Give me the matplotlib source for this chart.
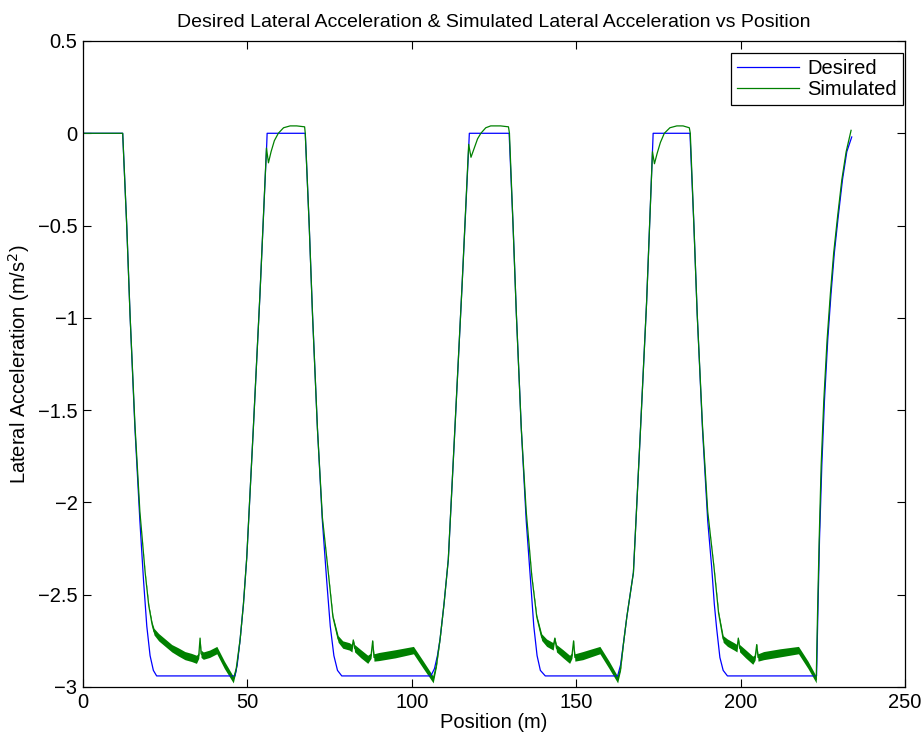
import matplotlib
matplotlib.use('Agg')
import matplotlib.pyplot as plt
from matplotlib.ticker import FuncFormatter

plt.rcParams['font.family'] = ['Liberation Sans', 'DejaVu Sans']

# desired lateral acceleration (m/s^2) vs position (m)
desired_x = [0, 12.07, 13.3, 14.3, 15.8, 17.3, 18.4, 19.4, 20.4, 21.4, 22.4,
             46.2, 46.9, 47.8, 48.8, 49.8, 51.8, 53.8, 55.9, 56.0,
             67.6, 68.8, 69.8, 71.3, 72.8, 74.1, 75.2, 76.3, 77.4, 78.7,
             105.8, 106.9, 107.8, 108.6, 109.8, 111.1, 113.2, 115.3, 117.4, 117.5,
             129.6, 130.8, 131.8, 133.3, 134.8, 136.1, 137.1, 138.1, 139.1, 140.6,
             162.6, 163.5, 164.4, 165.4, 167.4, 169.4, 171.4, 173.3, 173.4,
             184.6, 185.8, 186.8, 188.4, 190.0, 191.2, 192.0, 192.7, 193.7, 194.7, 196.0,
             223.1, 223.5, 224.0, 224.7, 225.5, 226.5, 227.5, 228.5, 229.7, 231.0, 232.3, 233.8]
desired_y = [0, 0, -0.5, -0.98, -1.6, -2.1, -2.42, -2.67, -2.83, -2.91, -2.94,
             -2.94, -2.88, -2.74, -2.55, -2.30, -1.60, -0.88, -0.05, 0,
             0, -0.5, -0.98, -1.6, -2.1, -2.42, -2.67, -2.83, -2.91, -2.94,
             -2.94, -2.90, -2.83, -2.74, -2.55, -2.31, -1.57, -0.82, -0.04, 0,
             0, -0.5, -0.98, -1.6, -2.1, -2.42, -2.67, -2.83, -2.91, -2.94,
             -2.94, -2.88, -2.76, -2.62, -2.38, -1.66, -0.92, -0.05, 0,
             0, -0.5, -0.98, -1.6, -2.1, -2.35, -2.55, -2.68, -2.84, -2.91, -2.94,
             -2.94, -2.6, -2.2, -1.8, -1.45, -1.12, -0.87, -0.65, -0.45, -0.25, -0.10, -0.02]

# simulated lateral acceleration: mean trace and half-width of the fast oscillation
sim_x = [0, 12.07, 13.3, 14.3, 15.8, 17.3, 18.9, 20.0, 21.0, 21.6,
         23.0, 25.0, 27.0, 29.0, 31.0, 33.0, 34.5, 35.2, 35.6, 35.9, 36.6, 38.5, 40.7, 43.0, 45.7, 46.6,
         47.8, 48.8, 49.8, 51.8, 53.8, 55.8, 56.4, 57.2, 58.2, 59.4, 61.0, 63.0, 65.0, 67.4, 67.6,
         68.8, 69.8, 71.3, 72.8, 74.6, 76.0, 77.6,
         79.0, 81.0, 81.8, 82.2, 82.6, 84.5, 86.6, 87.6, 88.1, 88.5, 90.0, 95.0, 100.5, 103.5, 106.5, 107.5,
         108.6, 109.8, 111.1, 113.2, 115.3, 117.3, 118.0, 118.8, 120.0, 121.0, 122.5, 124.0, 127.0, 129.4, 129.7,
         130.8, 131.8, 133.3, 134.8, 136.5, 138.0, 139.5,
         141.0, 143.0, 143.5, 144.0, 146.0, 148.0, 148.7, 149.2, 149.6, 152.0, 157.2, 160.0, 162.6, 163.5,
         164.4, 165.4, 167.4, 169.4, 171.4, 173.2, 173.8, 174.6, 175.6, 176.8, 178.5, 180.6, 182.5, 184.4, 184.7,
         185.8, 186.8, 188.4, 190.0, 191.9, 193.3, 194.7,
         196.0, 198.0, 198.9, 199.3, 199.7, 201.5, 203.7, 204.4, 204.9, 205.3, 207.0, 212.0, 217.6, 220.5, 223.0,
         223.4, 223.9, 224.5, 225.3, 226.3, 227.3, 228.3, 229.5, 230.8, 232.1, 233.6]
sim_y = [0, 0, -0.5, -0.98, -1.58, -2.05, -2.38, -2.56, -2.66, -2.70,
         -2.73, -2.76, -2.79, -2.81, -2.83, -2.84, -2.85, -2.83, -2.735, -2.82, -2.83, -2.82, -2.80, -2.88, -2.96, -2.90,
         -2.74, -2.55, -2.30, -1.60, -0.88, -0.08, -0.16, -0.10, -0.04, 0.0, 0.03, 0.04, 0.04, 0.035, 0.0,
         -0.5, -0.98, -1.6, -2.08, -2.38, -2.62, -2.74,
         -2.77, -2.78, -2.79, -2.745, -2.79, -2.82, -2.85, -2.83, -2.75, -2.84, -2.835, -2.82, -2.80, -2.88, -2.96, -2.88,
         -2.74, -2.55, -2.31, -1.57, -0.82, -0.06, -0.13, -0.09, -0.03, 0.0, 0.03, 0.04, 0.04, 0.035, 0.0,
         -0.5, -0.98, -1.6, -2.05, -2.4, -2.62, -2.73,
         -2.76, -2.78, -2.735, -2.79, -2.82, -2.85, -2.83, -2.75, -2.84, -2.83, -2.80, -2.88, -2.96, -2.90,
         -2.76, -2.62, -2.38, -1.66, -0.92, -0.10, -0.165, -0.11, -0.05, 0.0, 0.03, 0.04, 0.04, 0.03, 0.0,
         -0.5, -0.98, -1.58, -2.05, -2.35, -2.6, -2.74,
         -2.76, -2.78, -2.79, -2.735, -2.79, -2.82, -2.855, -2.84, -2.77, -2.84, -2.83, -2.815, -2.80, -2.88, -2.96,
         -2.6, -2.2, -1.8, -1.45, -1.12, -0.87, -0.65, -0.45, -0.25, -0.10, 0.016]
sim_band = [0, 0, 0, 0, 0, 0, 0.004, 0.008, 0.012, 0.018,
            0.02, 0.02, 0.02, 0.022, 0.022, 0.022, 0.022, 0.015, 0.005, 0.02, 0.02, 0.02, 0.02, 0.02, 0.018, 0.01,
            0.004, 0, 0, 0, 0, 0, 0, 0, 0, 0, 0, 0, 0, 0, 0,
            0, 0, 0, 0, 0.004, 0.01, 0.018,
            0.02, 0.02, 0.02, 0.005, 0.02, 0.022, 0.022, 0.015, 0.005, 0.02, 0.022, 0.022, 0.02, 0.02, 0.018, 0.01,
            0.004, 0, 0, 0, 0, 0, 0, 0, 0, 0, 0, 0, 0, 0, 0,
            0, 0, 0, 0, 0.004, 0.01, 0.018,
            0.02, 0.02, 0.005, 0.02, 0.022, 0.022, 0.015, 0.005, 0.02, 0.022, 0.02, 0.02, 0.018, 0.01,
            0.004, 0, 0, 0, 0, 0, 0, 0, 0, 0, 0, 0, 0, 0, 0,
            0, 0, 0, 0, 0.004, 0.01, 0.018,
            0.02, 0.02, 0.02, 0.005, 0.02, 0.022, 0.022, 0.015, 0.005, 0.02, 0.022, 0.022, 0.02, 0.02, 0.018,
            0.006, 0.006, 0.006, 0.006, 0.006, 0.006, 0.005, 0.004, 0.003, 0.002, 0]

x_ticks = [0, 50, 100, 150, 200, 250]
y_ticks = [0.5, 0, -0.5, -1, -1.5, -2, -2.5, -3]

blue = '#0000ff'
green = '#008000'

fig = plt.figure(figsize=(9.22, 7.4), dpi=100)
ax = fig.add_axes([83 / 922, 1 - 687 / 740, 822 / 922, 646 / 740])

ax.plot(desired_x, desired_y, color=blue, lw=0.9, label='Desired')
lo = [y - b for y, b in zip(sim_y, sim_band)]
hi = [y + b for y, b in zip(sim_y, sim_band)]
ax.fill_between(sim_x, lo, hi, color=green, lw=0)
ax.plot(sim_x, sim_y, color=green, lw=0.9, label='Simulated')

ax.set_xlim(0, 250)
ax.set_ylim(-3, 0.5)
ax.set_xticks(x_ticks)
ax.set_yticks(y_ticks)
fmt = FuncFormatter(lambda v, p: ('%g' % v).replace('-', '\u2212'))
ax.xaxis.set_major_formatter(fmt)
ax.yaxis.set_major_formatter(fmt)
ax.tick_params(direction='in', length=6, width=0.8, top=True, right=True, labelsize=14.5, pad=4)
for s in ax.spines.values():
    s.set_linewidth(0.9)

ax.set_title('Desired Lateral Acceleration & Simulated Lateral Acceleration vs Position', fontsize=14, pad=10)
ax.set_xlabel('Position (m)', fontsize=14.5, labelpad=1)
ax.set_ylabel('Lateral Acceleration (m/s$^2$)', fontsize=14.5, labelpad=4)

leg = ax.legend(loc='upper right', bbox_to_anchor=(0.9976, 0.9814), borderaxespad=0,
                fontsize=14.5, fancybox=False, framealpha=1, edgecolor='black',
                handlelength=3.1, handletextpad=0.4, borderpad=0.3, labelspacing=0.1)
leg.get_frame().set_linewidth(0.9)

fig.savefig('out.png', dpi=100)
